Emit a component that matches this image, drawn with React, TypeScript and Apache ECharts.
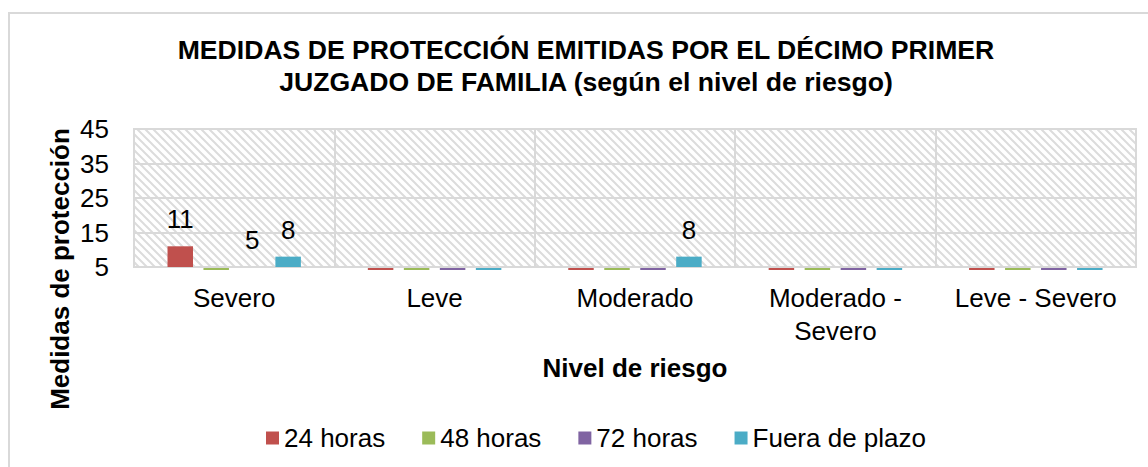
import React, { useEffect, useRef } from "react";
import * as echarts from "echarts";

const titleLines = [
  "MEDIDAS DE PROTECCIÓN EMITIDAS POR EL DÉCIMO PRIMER",
  "JUZGADO DE FAMILIA (según el nivel de riesgo)",
];
const categories = ["Severo", "Leve", "Moderado", "Moderado -\nSevero", "Leve - Severo"];
const seriesNames = ["24 horas", "48 horas", "72 horas", "Fuera de plazo"];
const horas24 = [11, 0, 0, 0, 0];
const horas48 = [0, 0, 0, 0, 0];
const horas72 = [5, 0, 0, 0, 0];
const fueraDePlazo = [8, 0, 8, 0, 0];
const yMin = 5;
const yMax = 45;
const yInterval = 10;
const xAxisTitle = "Nivel de riesgo";
const yAxisTitle = "Medidas de protección";

const colors = ["#C0504D", "#9BBB59", "#8064A2", "#4BACC6"];
const FONT = "'Liberation Sans', Arial, sans-serif";
const GRID_LINE = "#d9d9d9";
const BAR_WIDTH = 25.5;
const BAR_STEP = 36;

function makeHatch(): HTMLCanvasElement {
  const c = document.createElement("canvas");
  c.width = 8;
  c.height = 8;
  const ctx = c.getContext("2d")!;
  ctx.fillStyle = "#ffffff";
  ctx.fillRect(0, 0, 8, 8);
  ctx.strokeStyle = "#dcdcdc";
  ctx.lineWidth = 2;
  ctx.beginPath();
  ctx.moveTo(-1, -1);
  ctx.lineTo(9, 9);
  ctx.moveTo(-1, 7);
  ctx.lineTo(1, 9);
  ctx.moveTo(7, -1);
  ctx.lineTo(9, 1);
  ctx.stroke();
  return c;
}

export default function App() {
  const ref = useRef<HTMLDivElement>(null);

  useEffect(() => {
    if (!ref.current) return;
    const chart = echarts.init(ref.current, undefined, { renderer: "svg" });
    const allSeries = [horas24, horas48, horas72, fueraDePlazo];

    // zero-valued entries: Excel leaves a thin sliver under the axis line
    const zeroMarks: number[][] = [];
    allSeries.forEach((vals, i) =>
      vals.forEach((v, j) => {
        if (v === 0) zeroMarks.push([j, i]);
      })
    );

    const option: any = {
      animation: false,
      backgroundColor: "#ffffff",
      textStyle: { fontFamily: FONT },
      color: colors,
      graphic: [
        {
          type: "rect",
          silent: true,
          z: -10,
          shape: { x: 9, y: 13, width: 1300, height: 600 },
          style: { fill: "none", stroke: GRID_LINE, lineWidth: 2 },
        },
        {
          type: "text",
          silent: true,
          x: 586,
          y: 50,
          style: {
            text: titleLines[0],
            fontFamily: FONT,
            fontSize: 26.6,
            fontWeight: "bold",
            fill: "#000",
            align: "center",
            verticalAlign: "middle",
          },
        },
        {
          type: "text",
          silent: true,
          x: 586,
          y: 82,
          style: {
            text: titleLines[1],
            fontFamily: FONT,
            fontSize: 26.6,
            fontWeight: "bold",
            fill: "#000",
            align: "center",
            verticalAlign: "middle",
          },
        },
        {
          type: "text",
          silent: true,
          x: 60,
          y: 269,
          rotation: Math.PI / 2,
          style: {
            text: yAxisTitle,
            fontFamily: FONT,
            fontSize: 26,
            fontWeight: "bold",
            fill: "#000",
            align: "center",
            verticalAlign: "middle",
          },
        },
      ],
      legend: {
        left: 261,
        top: 420,
        itemWidth: 13,
        itemHeight: 13,
        itemGap: 37,
        icon: "rect",
        data: seriesNames,
        textStyle: { fontFamily: FONT, fontSize: 26, color: "#000" },
      },
      grid: {
        left: 134,
        right: 12,
        top: 129,
        bottom: 200,
        show: true,
        backgroundColor: { image: makeHatch(), repeat: "repeat" },
        borderColor: GRID_LINE,
        borderWidth: 2,
      },
      xAxis: {
        type: "category",
        data: categories,
        name: xAxisTitle,
        nameLocation: "middle",
        nameGap: 88,
        nameTextStyle: { fontFamily: FONT, fontSize: 26, fontWeight: "bold", color: "#000" },
        axisLine: { show: true, lineStyle: { color: GRID_LINE, width: 2 } },
        axisTick: { show: false },
        splitLine: { show: true, interval: 0, lineStyle: { color: GRID_LINE, width: 2 } },
        axisLabel: {
          interval: 0,
          margin: 14,
          fontFamily: FONT,
          fontSize: 26,
          lineHeight: 33,
          color: "#000",
        },
      },
      yAxis: {
        type: "value",
        min: yMin,
        max: yMax,
        interval: yInterval,
        startValue: yMin,
        axisLine: { show: false },
        axisTick: { show: false },
        splitLine: { show: true, lineStyle: { color: GRID_LINE, width: 2 } },
        axisLabel: { margin: 25, fontFamily: FONT, fontSize: 26, color: "#000" },
      },
      series: [
        ...allSeries.map((vals, i) => ({
          name: seriesNames[i],
          type: "bar",
          barWidth: BAR_WIDTH,
          barGap: "41%",
          data: vals,
          itemStyle: { color: colors[i] },
          label: {
            show: true,
            position: "top",
            distance: 14,
            fontFamily: FONT,
            fontSize: 26,
            color: "#000",
            formatter: (p: any) => (p.value === 0 ? "" : String(p.value)),
          },
        })),
        {
          type: "custom",
          name: "zero",
          silent: true,
          clip: false,
          z: 5,
          data: zeroMarks,
          renderItem: (_params: any, api: any) => {
            const cat = api.value(0);
            const s = api.value(1);
            const base = api.coord([cat, yMin]);
            const cx = base[0] + (s - 1.5) * BAR_STEP;
            return {
              type: "rect",
              shape: { x: cx - BAR_WIDTH / 2, y: base[1] + 1, width: BAR_WIDTH, height: 2 },
              style: { fill: colors[s] },
            };
          },
        },
      ],
    };

    chart.setOption(option);
    return () => chart.dispose();
  }, []);

  return (
    <div
      ref={ref}
      style={{ position: "absolute", left: 0, top: 0, width: 1148, height: 467, background: "#fff" }}
    />
  );
}
